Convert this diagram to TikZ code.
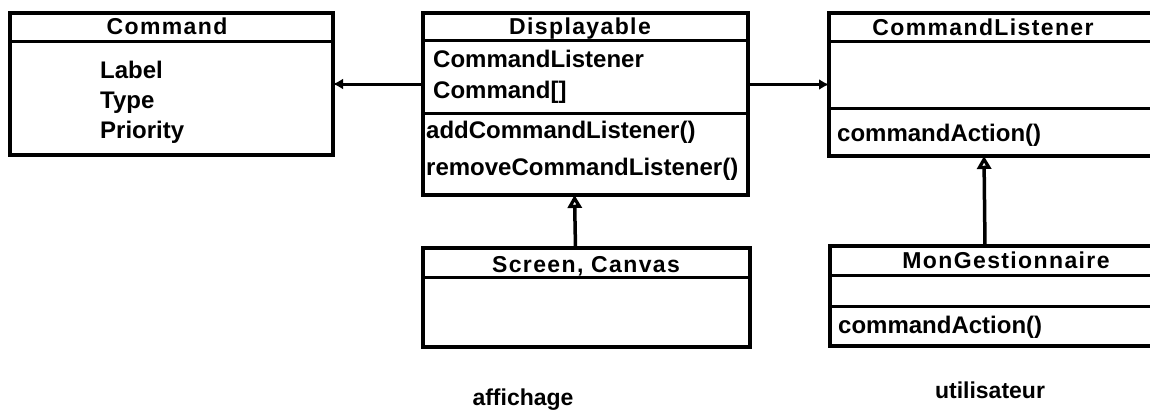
\documentclass[tikz,border=0pt]{standalone}
\usepackage{fontspec}
\setmainfont{Liberation Sans}
\newfontfamily\titlefont[LetterSpace=6]{Liberation Sans}
\usetikzlibrary{arrows.meta}
\tikzset{
	classbox/.style={draw, line width=4pt, outer sep=0pt, inner sep=0pt, anchor=north west},
	sepline/.style={line width=3pt},
	member/.style={font=\fontsize{24}{28}\selectfont\bfseries, inner sep=0pt, anchor=base west},
	classname/.style={font=\titlefont\fontsize{23}{28}\selectfont\bfseries, inner sep=0pt, anchor=base},
	pkgname/.style={font=\fontsize{23}{28}\selectfont\bfseries, inner sep=0pt, anchor=base},
	assoc/.style={-{Latex[length=10pt,width=11pt]}, line width=3pt},
	inherit/.style={-{Triangle[open,length=13pt,width=14pt]}, line width=3.5pt}
}
\begin{document}
\begin{tikzpicture}[x=1pt, y=-1pt]
	\useasboundingbox (0,0) rectangle (1150,412);
	\clip (0,0) rectangle (1150,412);
	% Command
	\node[classbox, minimum width=323pt, minimum height=142pt] (cmd) at (10,13) {};
	\draw[sepline] (cmd.west |- 0,42) -- (cmd.east |- 0,42);
	\node[classname] (cmdname) at (167,35) {Command};
	\node[member] (cmdlabel) at (100,78) {Label};
	\node[member] (cmdtype) at (100,108) {Type};
	\node[member] (cmdprio) at (100,138) {Priority};
	% Displayable
	\node[classbox, minimum width=325pt, minimum height=182pt] (disp) at (423,13) {};
	\draw[sepline] (disp.west |- 0,41) -- (disp.east |- 0,41);
	\draw[sepline] (disp.west |- 0,113) -- (disp.east |- 0,113);
	\node[classname] (dispname) at (580,35) {Displayable};
	\node[member] (displst) at (433,67) {CommandListener};
	\node[member] (dispcmd) at (433,98) {Command[]};
	\node[member] (dispadd) at (426,138) {addCommandListener()};
	\node[member] (disprem) at (426,175) {removeCommandListener()};
	% CommandListener
	\node[classbox, minimum width=340pt, minimum height=143pt] (lst) at (829,13) {};
	\draw[sepline] (lst.west |- 0,42) -- (lst.east |- 0,42);
	\draw[sepline] (lst.west |- 0,108) -- (lst.east |- 0,108);
	\node[classname] (lstname) at (983,36) {CommandListener};
	\node[member] (lstaction) at (837,141) {commandAction()};
	% Screen, Canvas
	\node[classbox, minimum width=327pt, minimum height=99pt] (scr) at (423,248) {};
	\draw[sepline] (scr.west |- 0,277) -- (scr.east |- 0,277);
	\node[classname] (scrname) at (586,272) {Screen, Canvas};
	% MonGestionnaire
	\node[classbox, minimum width=340pt, minimum height=100pt] (mon) at (830,246) {};
	\draw[sepline] (mon.west |- 0,275) -- (mon.east |- 0,275);
	\draw[sepline] (mon.west |- 0,306) -- (mon.east |- 0,306);
	\node[classname] (monname) at (1006,268) {MonGestionnaire};
	\node[member] (monaction) at (838,333) {commandAction()};
	% packages
	\node[pkgname] (affichage) at (523,405) {affichage};
	\node[pkgname] (utilisateur) at (990,398) {utilisateur};
	% connectors
	\draw[assoc] (disp.west |- cmd.east) -- (cmd.east);
	\draw[assoc] (disp.east |- lst.west) -- (lst.west);
	\draw[inherit] ([xshift=-11pt]scr.north) -- ([xshift=-11pt]disp.south);
	\draw[inherit] ([xshift=-15pt]mon.north) -- ([xshift=-15pt]lst.south);
\end{tikzpicture}
\end{document}
